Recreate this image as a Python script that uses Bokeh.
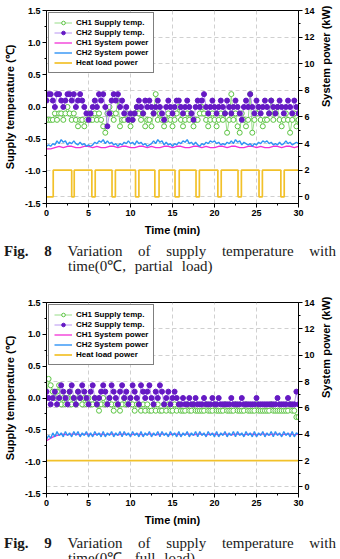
import math
from bokeh.plotting import figure
from bokeh.models import (Range1d, LinearAxis, FixedTicker, Grid, Legend,
                          LegendItem, Div, NumeralTickFormatter)
from bokeh.layouts import column
from bokeh.embed import file_html
from bokeh.resources import INLINE

# ---------------- data ----------------
TEMP_STEP_MIN = 0.25   # supply temperature sampling interval (min)
POWER_STEP_CH2 = 0.25  # CH2 system power sampling interval (min)
POWER_STEP_CH1 = 0.5   # CH1 system power sampling interval (min)

# Fig. 8 (partial load)
ch1_temp_partial = [
    -0.2, -0.2, -0.2, -0.2, -0.1, -0.2, -0.1, -0.1, -0.2,
    -0.1, 0.0, -0.1, -0.2, -0.1, -0.2, -0.3, -0.2,
    -0.2, -0.3, -0.2, -0.1, -0.2, -0.2, -0.1, -0.2,
    -0.1, -0.2, -0.3, -0.4, -0.1, 0.0, -0.1, -0.2,
    -0.1, 0.1, -0.3, -0.2, -0.2, -0.1, -0.2, -0.3,
    -0.2, -0.1, 0.0, -0.1, -0.2, -0.1, -0.3, -0.2,
    -0.2, -0.3, -0.1, 0.2, -0.2, -0.1, -0.2, -0.3,
    -0.2, -0.1, -0.2, -0.3, -0.2, -0.1, 0.0, -0.2,
    -0.3, -0.2, -0.1, -0.2, -0.1, -0.3, -0.2, -0.2,
    -0.1, 0.0, -0.1, -0.2, -0.3, -0.2, -0.1, -0.2,
    -0.3, -0.2, -0.1, -0.2, -0.1, -0.4, -0.2, 0.2,
    -0.2, -0.1, -0.3, -0.4, -0.1, -0.2, -0.3, -0.2,
    0.2, -0.4, -0.2, -0.1, 0.0, -0.2, -0.3, -0.2,
    -0.2, -0.1, 0.1, -0.2, -0.1, 0.0, -0.2, -0.3,
    -0.2, -0.1, -0.2, -0.4, -0.2, -0.1, -0.3, -0.2]
ch2_temp_partial = [
    0.1, 0.2, 0.2, 0.1, 0.0, 0.2, 0.2, 0.1, 0.0,
    0.1, 0.2, 0.2, 0.1, 0.2, 0.0, 0.1, 0.2,
    0.1, 0.0, -0.1, -0.2, -0.1, 0.0, 0.1, 0.0,
    0.2, 0.1, 0.2, 0.0, -0.3, -0.1, 0.1, 0.2,
    0.1, 0.2, 0.0, 0.1, -0.1, 0.0, -0.2, -0.1,
    -0.2, -0.1, 0.0, 0.1, 0.0, -0.1, 0.1, 0.0,
    0.1, 0.0, -0.1, 0.0, 0.1, 0.0, -0.1, -0.2,
    0.0, 0.1, 0.0, -0.1, 0.0, 0.1, 0.1, 0.0,
    -0.1, 0.0, 0.1, 0.0, -0.1, -0.2, 0.0, 0.1,
    0.0, 0.1, 0.2, 0.0, -0.1, 0.0, 0.1, 0.0,
    -0.1, 0.0, 0.1, 0.0, -0.1, 0.1, 0.0, -0.1,
    0.0, 0.1, 0.0, -0.1, -0.2, 0.0, 0.1, 0.0,
    0.2, 0.0, -0.1, 0.1, 0.0, -0.1, 0.0, 0.1,
    0.0, -0.1, 0.1, 0.0, -0.1, 0.0, 0.1, 0.0,
    -0.1, 0.0, 0.1, 0.0, -0.1, 0.1, 0.0, -0.1]
ch1_power_partial = [
    3.6, 3.6, 3.7, 3.8, 3.7, 3.8, 3.8, 3.7, 3.7, 3.8,
    3.8, 3.7, 3.8, 3.7, 3.7, 3.8, 3.8, 3.7, 3.8, 3.8,
    3.7, 3.7, 3.8, 3.8, 3.7, 3.8, 3.7, 3.7, 3.8, 3.8,
    3.7, 3.8, 3.8, 3.7, 3.7, 3.8, 3.8, 3.7, 3.8, 3.7,
    3.7, 3.8, 3.8, 3.7, 3.8, 3.8, 3.7, 3.7, 3.8, 3.8,
    3.7, 3.8, 3.7, 3.7, 3.8, 3.8, 3.7, 3.8, 3.8, 3.7,
    3.8]
ch2_power_partial = [
    3.8, 3.9, 3.8, 4.0, 3.9, 4.2, 4.0, 4.3, 4.1, 4.2,
    3.9, 4.1, 4.0, 4.2, 4.0, 3.9, 4.1, 3.9, 4.0, 3.8,
    3.9, 3.8, 3.9, 4.1, 4.0, 4.2, 4.1, 4.3, 4.0, 4.2,
    4.0, 4.1, 3.9, 4.0, 3.8, 4.0, 3.9, 4.1, 4.0, 4.2,
    4.0, 4.1, 3.9, 4.2, 4.0, 4.1, 3.9, 4.0, 3.8, 3.9,
    4.0, 4.2, 4.0, 4.3, 4.1, 4.2, 3.9, 4.1, 3.9, 4.0,
    3.8, 4.0, 3.9, 4.1, 4.0, 4.2, 4.1, 4.3, 4.0, 4.1,
    3.9, 4.1, 3.9, 3.8, 4.0, 3.9, 4.1, 4.0, 4.2, 4.1,
    4.2, 4.0, 4.1, 3.9, 4.0, 3.9, 4.1, 4.0, 4.2, 4.0,
    4.3, 4.1, 4.2, 3.9, 4.1, 4.0, 3.9, 4.0, 3.8, 4.0,
    3.9, 4.1, 4.0, 4.2, 4.1, 4.2, 4.0, 4.1, 3.9, 4.0,
    3.9, 4.1, 3.9, 4.0, 4.2, 4.0, 4.1, 3.9, 4.0, 4.1,
    4.0]
load_time_partial = [0, 0.8, 3.0, 3.3, 5.4, 5.8, 7.8, 8.2, 10.6, 11.0, 12.9, 13.4,
                     15.3, 15.8, 17.8, 18.2, 20.4, 20.8, 22.8, 23.2, 25.3, 25.7,
                     27.9, 28.3, 30.0]
load_power_partial = [0, 2, 0, 2, 0, 2, 0, 2, 0, 2, 0, 2,
                      0, 2, 0, 2, 0, 2, 0, 2, 0, 2,
                      0, 2, 2]

# Fig. 9 (full load)
ch1_temp_full = [
    0.0, 0.3, 0.2, 0.1, 0.0, 0.1, 0.2, -0.1, 0.0,
    -0.1, 0.0, 0.1, -0.1, 0.0, -0.1, 0.1, 0.0,
    -0.1, 0.0, -0.1, 0.0, -0.1, -0.1, 0.0, -0.1,
    -0.2, -0.1, 0.0, -0.1, -0.1, 0.0, -0.1, -0.2,
    -0.1, -0.1, -0.2, -0.1, 0.0, -0.1, -0.1, 0.0,
    -0.1, -0.2, -0.1, -0.1, -0.2, -0.1, -0.2, -0.1,
    -0.2, -0.2, -0.1, -0.2, -0.1, -0.2, -0.2, -0.1,
    -0.2, -0.1, -0.2, -0.2, -0.1, -0.2, -0.1, -0.2,
    -0.2, -0.2, -0.1, -0.2, -0.2, -0.1, -0.2, -0.2,
    -0.2, -0.2, -0.2, -0.1, -0.2, -0.2, -0.2, -0.1,
    -0.2, -0.2, -0.2, -0.2, -0.1, -0.2, -0.2, -0.2,
    -0.2, -0.1, -0.2, -0.2, -0.2, -0.2, -0.1, -0.2,
    -0.2, -0.2, -0.2, -0.1, -0.2, -0.2, -0.2, -0.2,
    -0.2, -0.2, -0.1, -0.2, -0.2, -0.2, -0.2, -0.2,
    -0.2, -0.2, -0.2, -0.1, -0.2, -0.2, -0.3, -0.3]
ch2_temp_full = [
    0.1, 0.0, -0.1, 0.0, 0.1, -0.1, 0.0, 0.2, 0.1,
    0.0, -0.1, 0.1, 0.2, 0.0, -0.1, 0.1, 0.0,
    0.2, 0.1, 0.0, -0.1, 0.1, 0.2, 0.0, -0.1,
    0.0, 0.1, 0.2, 0.1, -0.1, 0.0, 0.2, 0.1,
    0.0, -0.1, 0.1, 0.2, 0.0, 0.1, -0.1, 0.0,
    0.2, 0.1, 0.0, -0.1, 0.2, 0.1, 0.0, 0.1,
    0.2, 0.0, -0.1, 0.1, 0.0, 0.2, 0.1, -0.1,
    0.0, 0.1, -0.1, 0.0, 0.1, 0.0, -0.1, -0.1,
    0.0, -0.1, -0.1, 0.0, -0.1, -0.1, 0.0, -0.1,
    -0.1, -0.1, 0.0, -0.1, -0.1, -0.1, 0.0, -0.1,
    -0.1, 0.0, -0.1, -0.1, -0.1, -0.1, -0.1, 0.0,
    -0.1, -0.1, -0.1, -0.1, 0.0, -0.1, -0.1, -0.1,
    -0.1, -0.1, -0.1, 0.0, -0.1, -0.1, -0.1, -0.1,
    -0.1, -0.1, -0.1, -0.1, -0.1, 0.0, -0.1, -0.1,
    -0.1, -0.1, 0.0, -0.1, -0.1, -0.1, 0.1, -0.1]
ch1_power_full = [
    3.5, 3.7, 3.85, 3.95, 4.0, 3.95, 4.0, 4.0, 3.95, 4.0,
    4.0, 3.95, 4.0, 4.0, 3.95, 4.0, 4.0, 3.95, 4.0, 4.0,
    3.95, 4.0, 4.0, 3.95, 4.0, 4.0, 3.95, 4.0, 4.0, 3.95,
    4.0, 4.0, 3.95, 4.0, 4.0, 3.95, 4.0, 4.0, 3.95, 4.0,
    4.0, 3.95, 4.0, 4.0, 3.95, 4.0, 4.0, 3.95, 4.0, 4.0,
    3.95, 4.0, 4.0, 3.95, 4.0, 4.0, 3.95, 4.0, 4.0, 3.95,
    4.0]
ch2_power_full = [
    3.6, 3.9, 3.7, 4.1, 3.8, 4.2, 3.9, 4.1, 3.8, 4.2,
    3.9, 4.1, 3.8, 4.2, 3.9, 4.2, 3.8, 4.1, 3.9, 4.2,
    3.8, 4.1, 3.8, 4.2, 3.9, 4.1, 3.8, 4.2, 3.8, 4.1,
    3.9, 4.2, 3.8, 4.1, 3.9, 4.2, 3.8, 4.2, 3.9, 4.1,
    3.8, 4.2, 3.9, 4.1, 3.8, 4.2, 3.8, 4.1, 3.9, 4.2,
    3.8, 4.1, 3.9, 4.2, 3.8, 4.2, 3.9, 4.1, 3.8, 4.2,
    3.9, 4.1, 3.8, 4.2, 3.8, 4.1, 3.9, 4.2, 3.8, 4.1,
    3.9, 4.2, 3.8, 4.2, 3.9, 4.1, 3.8, 4.2, 3.9, 4.1,
    3.8, 4.2, 3.8, 4.1, 3.9, 4.2, 3.8, 4.1, 3.9, 4.2,
    3.8, 4.2, 3.9, 4.1, 3.8, 4.2, 3.9, 4.1, 3.8, 4.2,
    3.8, 4.1, 3.9, 4.2, 3.8, 4.1, 3.9, 4.2, 3.8, 4.2,
    3.9, 4.1, 3.8, 4.2, 3.9, 4.1, 3.8, 4.2, 3.8, 4.1,
    4.0]
load_time_full = [0, 30]
load_power_full = [2.0, 2.0]

x_ticks = [0, 5, 10, 15, 20, 25, 30]
x_minor = [2.5, 7.5, 12.5, 17.5, 22.5, 27.5]
temp_ticks = [-1.5, -1.0, -0.5, 0.0, 0.5, 1.0, 1.5]
temp_minor = [-1.25, -0.75, -0.25, 0.25, 0.75, 1.25]
power_ticks = [0, 2, 4, 6, 8, 10, 12, 14]
power_minor = [1, 3, 5, 7, 9, 11, 13]

series_labels = ["CH1 Supply temp.", "CH2 Supply temp.", "CH1 System power",
                 "CH2 System power", "Heat load power"]

# ---------------- styling ----------------
FONT = "Liberation Sans"
GREEN = "#5cc443"
GREEN_LINE = "#7fd46a"
PURPLE = "#6519c4"
PURPLE_LINE = "#a679ee"
MAGENTA = "#f22fd6"
BLUE = "#2f93f5"
GOLD = "#f2c12a"
GRID = "#c4c4c4"


def style_axis(ax):
    ax.axis_line_color = "black"
    ax.axis_line_width = 1
    ax.major_tick_line_color = "black"
    ax.minor_tick_line_color = "black"
    ax.major_tick_in = 0
    ax.major_tick_out = 4
    ax.minor_tick_in = 0
    ax.minor_tick_out = 2
    ax.major_label_text_font = FONT
    ax.major_label_text_font_style = "bold"
    ax.major_label_text_font_size = "9px"
    ax.major_label_text_color = "black"
    ax.major_label_standoff = 2
    ax.axis_label_text_font = FONT
    ax.axis_label_text_font_style = "bold"
    ax.axis_label_text_font_size = "11px"
    ax.axis_label_text_color = "black"


def make_chart(ch1_t, ch2_t, ch1_p, ch2_p, load_t, load_p, border_bottom, border_right):
    p = figure(width=340, height=238, x_range=Range1d(0, 30), y_range=Range1d(-1.5, 1.5),
               output_backend="svg", toolbar_location=None,
               min_border_left=43, min_border_right=border_right,
               min_border_top=10, min_border_bottom=border_bottom)
    p.extra_y_ranges = {"power": Range1d(-0.5, 14)}
    p.outline_line_color = "black"
    p.outline_line_width = 1
    p.background_fill_color = "white"
    p.border_fill_color = "white"

    xa = p.xaxis[0]
    xa.ticker = FixedTicker(ticks=x_ticks, minor_ticks=x_minor)
    xa.axis_label = "Time (min)"
    style_axis(xa)
    xa.axis_label_standoff = 5

    ya = p.yaxis[0]
    ya.ticker = FixedTicker(ticks=temp_ticks, minor_ticks=temp_minor)
    ya.formatter = NumeralTickFormatter(format="0.0")
    ya.axis_label = "Supply temperature (℃)"
    style_axis(ya)
    ya.axis_label_standoff = 6

    ra = LinearAxis(y_range_name="power",
                    ticker=FixedTicker(ticks=power_ticks, minor_ticks=power_minor),
                    axis_label="System power (kW)")
    style_axis(ra)
    ra.axis_label_standoff = 8
    ra.axis_label_orientation = math.pi / 2
    p.add_layout(ra, "right")

    p.xgrid.ticker = FixedTicker(ticks=x_ticks)
    p.xgrid.grid_line_color = GRID
    p.xgrid.grid_line_dash = "4 3"
    p.xgrid.grid_line_width = 0.8
    p.ygrid.visible = False
    g = Grid(dimension=1, ticker=FixedTicker(ticks=power_ticks), y_range_name="power",
             grid_line_color=GRID, grid_line_dash="4 3", grid_line_width=0.8)
    p.add_layout(g)

    tt1 = [i * TEMP_STEP_MIN for i in range(len(ch1_t))]
    tt2 = [i * TEMP_STEP_MIN for i in range(len(ch2_t))]
    tp1 = [i * POWER_STEP_CH1 for i in range(len(ch1_p))]
    tp2 = [i * POWER_STEP_CH2 for i in range(len(ch2_p))]

    r_load = p.step(load_t, load_p, mode="after", y_range_name="power",
                    line_color=GOLD, line_width=1.7)
    r_p1 = p.line(tp1, ch1_p, y_range_name="power", line_color=MAGENTA, line_width=1.3)
    r_p2 = p.line(tp2, ch2_p, y_range_name="power", line_color=BLUE, line_width=1.4)

    g_line = p.line(tt1, ch1_t, line_color=GREEN_LINE, line_width=0.8)
    g_sc = p.scatter(tt1, ch1_t, marker="circle", size=5, line_color=GREEN,
                     fill_color="white", line_width=1)
    p_line = p.line(tt2, ch2_t, line_color=PURPLE_LINE, line_width=0.8)
    p_sc = p.scatter(tt2, ch2_t, marker="circle", size=5, line_color=PURPLE,
                     fill_color=PURPLE, line_width=1)

    legend = Legend(items=[
        LegendItem(label=series_labels[0], renderers=[g_line, g_sc]),
        LegendItem(label=series_labels[1], renderers=[p_line, p_sc]),
        LegendItem(label=series_labels[2], renderers=[r_p1]),
        LegendItem(label=series_labels[3], renderers=[r_p2]),
        LegendItem(label=series_labels[4], renderers=[r_load]),
    ], location="top_left")
    legend.border_line_color = "black"
    legend.border_line_width = 1
    legend.background_fill_color = "white"
    legend.background_fill_alpha = 1
    legend.label_text_font = FONT
    legend.label_text_font_style = "bold"
    legend.label_text_font_size = "8px"
    legend.label_text_color = "black"
    legend.glyph_width = 18
    legend.glyph_height = 9
    legend.label_height = 9
    legend.spacing = 1
    legend.padding = 5
    legend.margin = 2
    legend.label_standoff = 4
    p.add_layout(legend)
    return p


def caption(num, cond, height):
    html = (
        '<div style="font-family:\'Liberation Serif\',\'Times New Roman\',serif;'
        'font-size:15px;line-height:15px;color:#1a1a1a;width:332px;height:%dpx;'
        'overflow:hidden;padding:6px 4px 0 4px;box-sizing:content-box;">'
        '<div style="display:flex;justify-content:space-between;">'
        '<span style="font-weight:bold">Fig.</span>'
        '<span style="font-weight:bold">%s</span>'
        '<span>Variation</span><span>of</span><span>supply</span>'
        '<span>temperature</span><span>with</span></div>'
        '<div style="padding-left:64px;word-spacing:5px;">time(0℃, %s)</div></div>'
        % (height - 6, num, cond))
    return Div(text=html, width=340, height=height, margin=(0, 0, 0, 0))


p1 = make_chart(ch1_temp_partial, ch2_temp_partial, ch1_power_partial, ch2_power_partial,
                load_time_partial, load_power_partial, border_bottom=35, border_right=38)
p2 = make_chart(ch1_temp_full, ch2_temp_full, ch1_power_full, ch2_power_full,
                load_time_full, load_power_full, border_bottom=37, border_right=42)
c1 = caption("8", "partial load", 54)
c2 = caption("9", "full load", 29)

layout = column(p1, c1, p2, c2, spacing=0)
open("out.html", "w").write(file_html(layout, INLINE))
